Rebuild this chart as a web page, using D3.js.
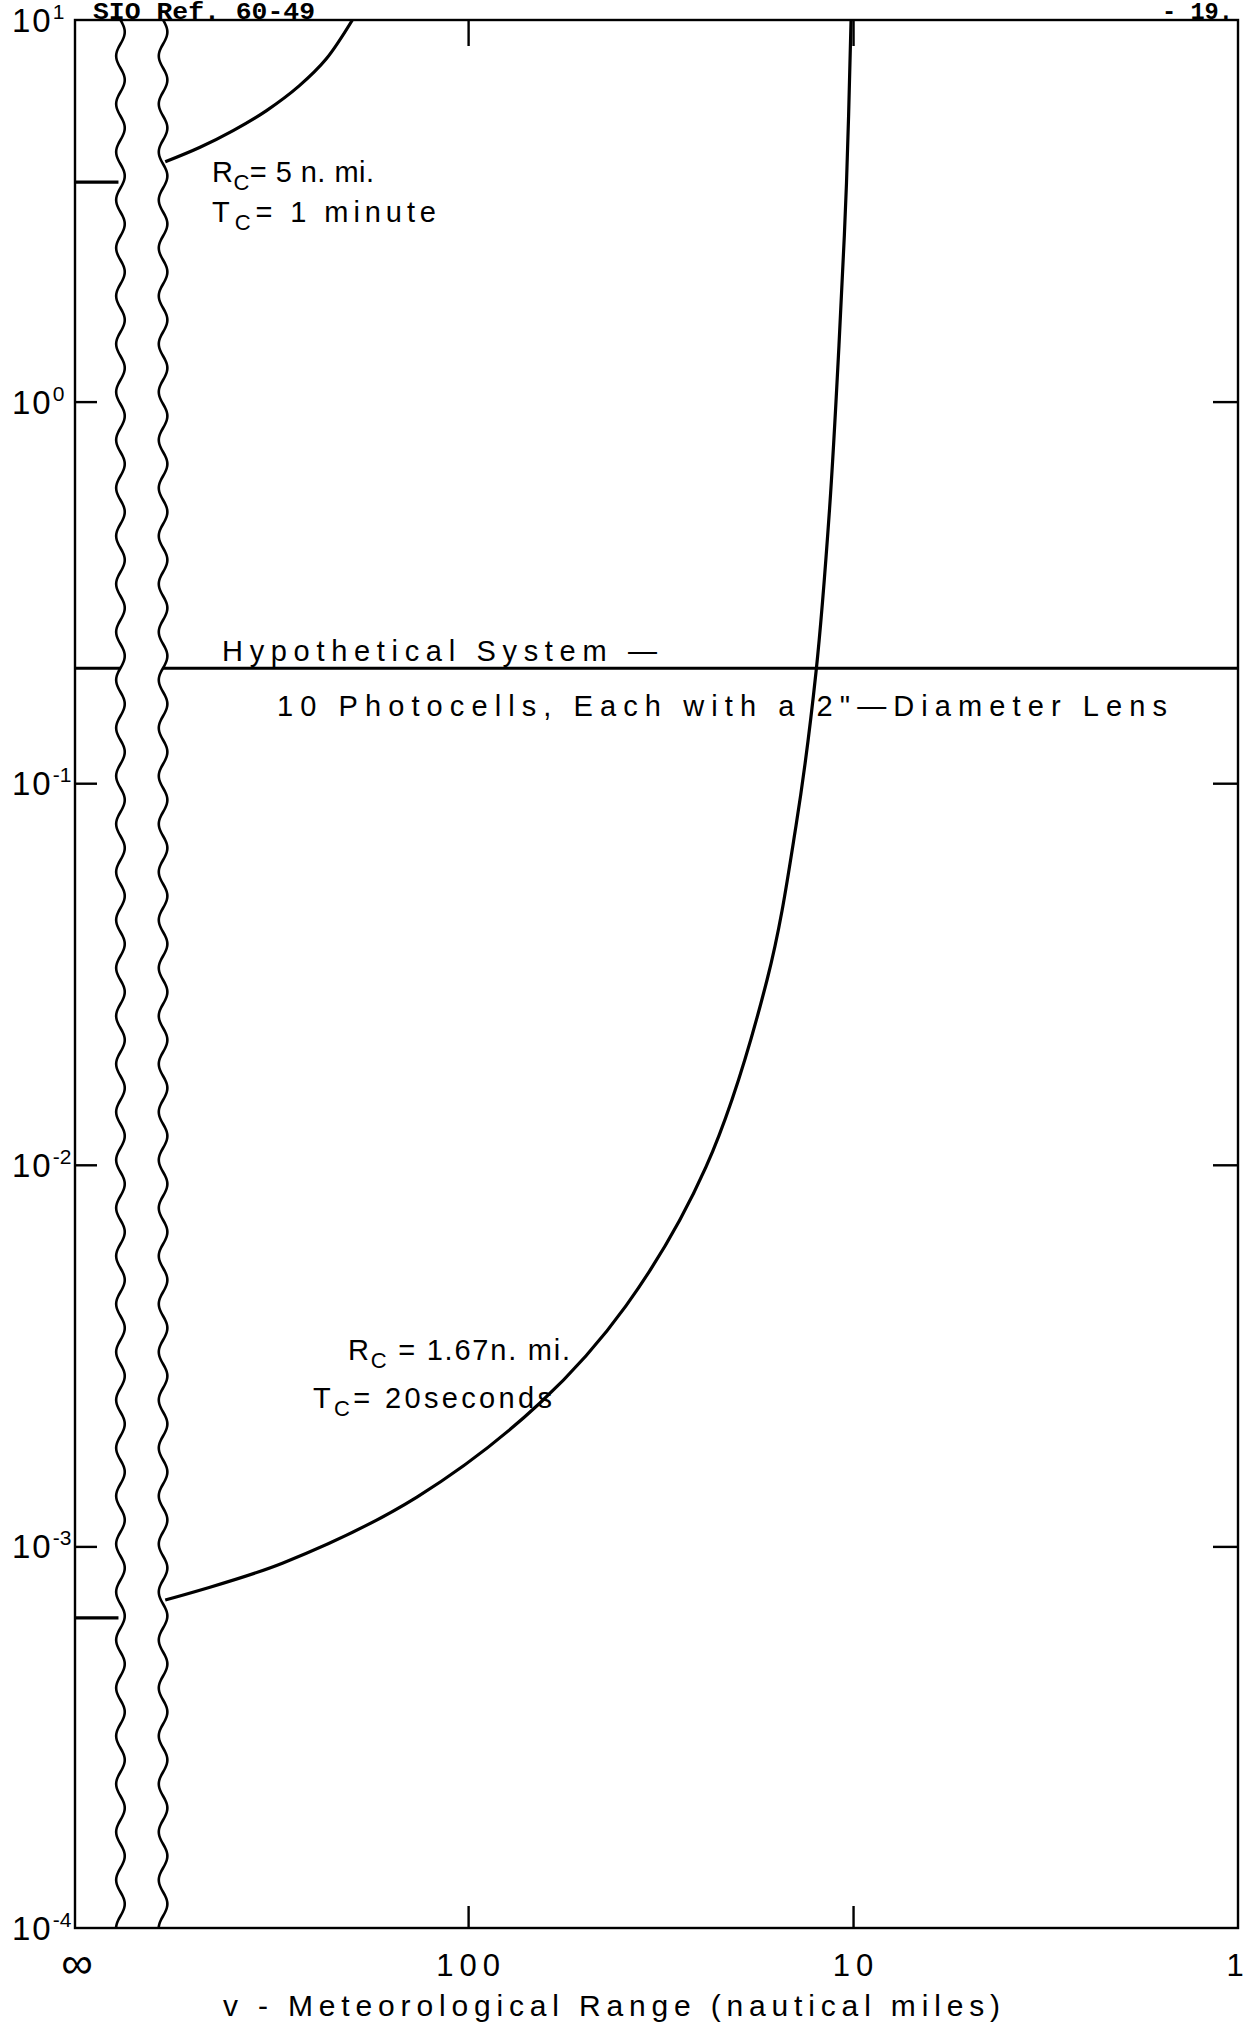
<!DOCTYPE html>
<html>
<head>
<meta charset="utf-8">
<script src="https://cdn.jsdelivr.net/npm/d3@7"></script>
<style>
  body { margin: 0; background: #fff; }
  svg { display: block; }
  text { font-family: "Liberation Sans", Arial, sans-serif; fill: #000; }
  .mono { font-family: "Liberation Mono", "DejaVu Sans Mono", monospace; font-weight: bold; }
</style>
</head>
<body>
<div id="chart"></div>
<script>
// tick values and labels
const yTickValues = [1e1, 1e0, 1e-1, 1e-2, 1e-3, 1e-4];
const yTickExponents = ["1", "0", "-1", "-2", "-3", "-4"];
const xTickValues = [100, 10, 1];
const xTickLabels = ["100", "10", "1"];
const infinityLabel = "\u221E";

// Rc = 5 n. mi., Tc = 1 minute  (range in n. mi., value)
const upperRange = [612, 497, 407.8, 333.9, 274.7, 233.8, 199.8];
const upperValue = [4.25, 4.64, 5.13, 5.79, 6.72, 7.90, 10];

// Rc = 1.67 n. mi., Tc = 20 seconds
const lowerRange = [612, 302.6, 135.8, 65.06, 38.9, 24.1, 16.73, 14.07, 12.48, 11.51, 10.88, 10.40, 10.12];
const lowerValue = [7.24e-4, 9.05e-4, 1.347e-3, 2.376e-3, 4.27e-3, 9.87e-3, 0.0305, 0.0772, 0.1956, 0.523, 1.40, 3.74, 10];

// values at infinite range (left of the axis break)
const infinityValues = [3.76, 6.5e-4];

// hypothetical system level
const systemLevel = 0.2;

// axis break sits between these ranges
const breakRanges = [800, 620];

const W = 1248, H = 2033;
const margin = { top: 20, right: 10, bottom: 105, left: 75 },
  width = W - margin.left - margin.right,
  height = H - margin.top - margin.bottom;

const svgRoot = d3.select("#chart").append("svg")
  .attr("width", W)
  .attr("height", H);

const svg = svgRoot.append("g")
  .attr("transform", `translate(${margin.left},${margin.top})`);

const x = d3.scaleLog().domain([1050, 1]).range([0, width]);
const y = d3.scaleLog().domain([1e-4, 10]).range([height, 0]);

// frame
svg.append("rect")
  .attr("width", width)
  .attr("height", height)
  .attr("fill", "none")
  .attr("stroke", "#000")
  .attr("stroke-width", 2.4);

// inward ticks
const inner = [1e0, 1e-1, 1e-2, 1e-3];
svg.append("g")
  .call(d3.axisLeft(y).tickValues(inner).tickSize(-22).tickFormat(""))
  .call(g => g.select(".domain").remove())
  .selectAll("line").attr("stroke", "#000").attr("stroke-width", 2.4);
svg.append("g")
  .attr("transform", `translate(${width},0)`)
  .call(d3.axisRight(y).tickValues(inner).tickSize(-25).tickFormat(""))
  .call(g => g.select(".domain").remove())
  .selectAll("line").attr("stroke", "#000").attr("stroke-width", 2.4);
svg.append("g")
  .attr("transform", `translate(0,${height})`)
  .call(d3.axisBottom(x).tickValues([100, 10]).tickSize(-22).tickFormat(""))
  .call(g => g.select(".domain").remove())
  .selectAll("line").attr("stroke", "#000").attr("stroke-width", 2.4);
svg.append("g")
  .call(d3.axisTop(x).tickValues([100, 10]).tickSize(-26).tickFormat(""))
  .call(g => g.select(".domain").remove())
  .selectAll("line").attr("stroke", "#000").attr("stroke-width", 2.4);

// y labels 10^n
yTickValues.forEach((v, i) => {
  const t = svg.append("text")
    .attr("x", 12 - margin.left)
    .attr("y", y(v) + 12)
    .attr("font-size", 33)
    .attr("letter-spacing", 2);
  t.append("tspan").text("10");
  t.append("tspan")
    .attr("dy", -13)
    .attr("font-size", 21)
    .attr("letter-spacing", 0)
    .text(yTickExponents[i]);
});

// x labels
xTickValues.forEach((v, i) => {
  const ls = xTickLabels[i].length > 1 ? 6 : 0;
  svg.append("text")
    .attr("x", x(v) + ls / 2 - (ls ? 0 : 3))
    .attr("y", height + 48)
    .attr("text-anchor", "middle")
    .attr("font-size", 31)
    .attr("letter-spacing", ls)
    .text(xTickLabels[i]);
});
svg.append("text")
  .attr("x", 2)
  .attr("y", height + 50)
  .attr("text-anchor", "middle")
  .attr("font-size", 44)
  .text(infinityLabel);

svg.append("text")
  .attr("x", 223 - margin.left)
  .attr("y", height + 88)
  .attr("font-size", 30)
  .attr("textLength", 777)
  .attr("lengthAdjust", "spacing")
  .text("v - Meteorological   Range   (nautical miles)");

// axis break: two wavy lines
const xb0 = x(breakRanges[0]), xb1 = x(breakRanges[1]);
const wave = d3.line().curve(d3.curveBasis);
[xb0, xb1].forEach(cx => {
  const pts = d3.range(0, height + 1, 4).map(t => [cx + 4.5 * Math.sin(2 * Math.PI * t / 48), t]);
  svg.append("path")
    .attr("d", wave(pts))
    .attr("fill", "none")
    .attr("stroke", "#000")
    .attr("stroke-width", 2.6);
});

// hypothetical system line, broken at the axis break
[[0, xb0], [xb1, width]].forEach(seg => {
  svg.append("line")
    .attr("x1", seg[0]).attr("x2", seg[1])
    .attr("y1", y(systemLevel)).attr("y2", y(systemLevel))
    .attr("stroke", "#000")
    .attr("stroke-width", 3);
});

// values at infinity
infinityValues.forEach(v => {
  svg.append("line")
    .attr("x1", 0).attr("x2", xb0 - 2)
    .attr("y1", y(v)).attr("y2", y(v))
    .attr("stroke", "#000")
    .attr("stroke-width", 3.2);
});

// curves
const line = d3.line()
  .x(d => x(d[0]))
  .y(d => y(d[1]))
  .curve(d3.curveCatmullRom.alpha(0.5));

[[upperRange, upperValue], [lowerRange, lowerValue]].forEach(([rs, vs]) => {
  svg.append("path")
    .datum(rs.map((r, i) => [r, vs[i]]))
    .attr("fill", "none")
    .attr("stroke", "#000")
    .attr("stroke-width", 3.2)
    .attr("d", line);
});

// annotations with subscripts
function subLabel(px, py, main, sub, rest, len) {
  const t = svgRoot.append("text")
    .attr("x", px)
    .attr("y", py)
    .attr("font-size", 29)
    .attr("textLength", len)
    .attr("lengthAdjust", "spacing");
  t.append("tspan").text(main);
  t.append("tspan").attr("dy", 8).attr("font-size", 22).text(sub);
  t.append("tspan").attr("dy", -8).text(rest);
  return t;
}
subLabel(212, 182, "R", "C", "= 5 n. mi.", 162);
subLabel(212, 222, "T", "C", "= 1  minute", 224);
subLabel(348, 1360, "R", "C", " = 1.67n. mi.", 222);
subLabel(313, 1408, "T", "C", "= 20seconds", 239);

svgRoot.append("text")
  .attr("x", 222)
  .attr("y", 661)
  .attr("font-size", 29)
  .attr("textLength", 435)
  .attr("lengthAdjust", "spacing")
  .text("Hypothetical  System \u2014");

svgRoot.append("text")
  .attr("x", 277)
  .attr("y", 716)
  .attr("font-size", 29)
  .attr("textLength", 890)
  .attr("lengthAdjust", "spacing")
  .text("10 Photocells, Each with a 2\"\u2014Diameter Lens");

// page header
svgRoot.append("text")
  .attr("class", "mono")
  .attr("x", 93)
  .attr("y", 19)
  .attr("font-size", 23)
  .attr("textLength", 222)
  .attr("lengthAdjust", "spacingAndGlyphs")
  .text("SIO Ref. 60-49");

svgRoot.append("text")
  .attr("class", "mono")
  .attr("x", 1162)
  .attr("y", 19)
  .attr("font-size", 23)
  .attr("textLength", 71)
  .attr("lengthAdjust", "spacingAndGlyphs")
  .text("- 19.");
</script>
</body>
</html>
